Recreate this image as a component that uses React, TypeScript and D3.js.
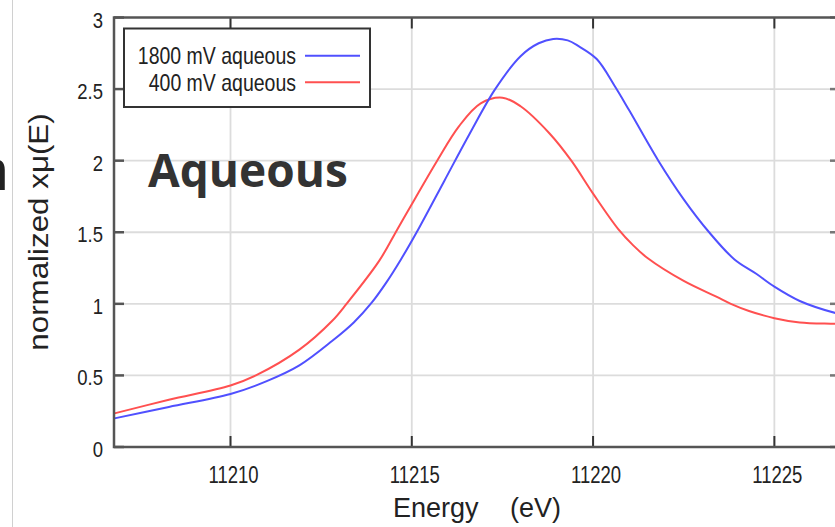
import React from "react";
import * as d3 from "d3";

const xTicks = [11210, 11215, 11220, 11225];
const yTicks = [0, 0.5, 1, 1.5, 2, 2.5, 3];
const yTickLabels = ["0", "0.5", "1", "1.5", "2", "2.5", "3"];

const energy1800 = [11206.8, 11208.3, 11210.0, 11211.0, 11211.9, 11212.8, 11213.4, 11213.9, 11214.3, 11214.7, 11215.2, 11215.9, 11216.6, 11217.3, 11218.0, 11218.5, 11218.9, 11219.3, 11219.6, 11220.1, 11220.6, 11221.0, 11221.8, 11222.5, 11223.2, 11223.9, 11224.5, 11225.0, 11225.7, 11226.7, 11227.0];
const mu1800 = [0.20, 0.28, 0.37, 0.46, 0.57, 0.74, 0.87, 1.01, 1.15, 1.31, 1.53, 1.86, 2.19, 2.50, 2.73, 2.82, 2.85, 2.84, 2.80, 2.71, 2.52, 2.35, 2.00, 1.73, 1.50, 1.31, 1.21, 1.12, 1.02, 0.935, 0.92];

const energy400 = [11206.8, 11208.3, 11210.0, 11210.7, 11211.9, 11212.8, 11213.2, 11214.1, 11214.6, 11215.1, 11215.7, 11216.3, 11216.9, 11217.5, 11218.0, 11218.8, 11219.4, 11220.0, 11220.7, 11221.1, 11221.5, 11222.5, 11223.4, 11223.8, 11224.3, 11225.0, 11225.7, 11226.7, 11227.0];
const mu400 = [0.235, 0.33, 0.43, 0.50, 0.68, 0.88, 1.00, 1.30, 1.52, 1.74, 2.00, 2.24, 2.40, 2.44, 2.38, 2.19, 2.00, 1.77, 1.52, 1.41, 1.32, 1.16, 1.05, 1.00, 0.95, 0.90, 0.87, 0.86, 0.855];

const seriesNames = ["1800 mV aqueous", "400 mV aqueous"];
const seriesColors = ["#5050ff", "#ff5050"];

export default function App() {
  const left = 114, right = 840, top = 17.5, bottom = 447;
  const x = d3.scaleLinear().domain([11206.787, 11226.81]).range([left, right]);
  const y = d3.scaleLinear().domain([0, 3]).range([bottom, top]);

  const line = d3
    .line<[number, number]>()
    .x((d) => x(d[0]))
    .y((d) => y(d[1]))
    .curve(d3.curveCatmullRom.alpha(0.5));

  const d1800 = line(energy1800.map((e, i) => [e, mu1800[i]] as [number, number])) || "";
  const d400 = line(energy400.map((e, i) => [e, mu400[i]] as [number, number])) || "";

  const font = "'Liberation Sans', Arial, sans-serif";
  const textColor = "#222";
  const axisColor = "#555";

  return (
    <svg
      width={835}
      height={527}
      style={{ position: "absolute", left: 0, top: 0, background: "#fff" }}
    >
      <defs>
        <clipPath id="plotClip">
          <rect x={left} y={top} width={right - left} height={bottom - top} />
        </clipPath>
      </defs>
      <rect x={0} y={0} width={835} height={527} fill="#fff" />
      {/* slide border line */}
      <line x1={12.5} x2={12.5} y1={0} y2={527} stroke="#d0d0d0" strokeWidth={1} />
      {/* cropped bold letter */}
      <text
        x={9}
        y={190}
        textAnchor="end"
        fontFamily="'Open Sans', sans-serif"
        fontWeight={700}
        fontSize={58}
        fill="#222"
      >
        n
      </text>

      {/* grid */}
      {xTicks.map((t) => (
        <line key={"gx" + t} x1={x(t)} x2={x(t)} y1={top} y2={bottom} stroke="#dcdcdc" strokeWidth={1.8} />
      ))}
      {yTicks.slice(1, -1).map((t) => (
        <line key={"gy" + t} x1={left} x2={right} y1={y(t)} y2={y(t)} stroke="#dcdcdc" strokeWidth={1.8} />
      ))}

      {/* curves */}
      <g clipPath="url(#plotClip)">
        <path d={d400} fill="none" stroke={seriesColors[1]} strokeWidth={2} />
        <path d={d1800} fill="none" stroke={seriesColors[0]} strokeWidth={2} />
      </g>

      {/* ticks */}
      {xTicks.map((t) => (
        <g key={"tx" + t}>
          <line x1={x(t)} x2={x(t)} y1={bottom} y2={bottom - 11} stroke="#333" strokeWidth={2} />
          <line x1={x(t)} x2={x(t)} y1={top} y2={top + 11} stroke="#333" strokeWidth={2} />
        </g>
      ))}
      {yTicks.map((t) => (
        <g key={"ty" + t}>
          <line x1={left} x2={left + 10} y1={y(t)} y2={y(t)} stroke="#555" strokeWidth={2.5} />
          <line x1={right} x2={right - 10} y1={y(t)} y2={y(t)} stroke="#777" strokeWidth={2.5} />
        </g>
      ))}

      {/* frame */}
      <rect x={left} y={top} width={right - left} height={bottom - top} fill="none" stroke={axisColor} strokeWidth={2.5} />

      {/* tick labels */}
      {xTicks.map((t) => (
        <text
          key={"lx" + t}
          transform={`translate(${x(t) + 3},483) scale(1,1.25)`}
          textAnchor="middle"
          fontFamily={font}
          fontSize={18.5}
          fill={textColor}
        >
          {t}
        </text>
      ))}
      {yTicks.map((t, i) => (
        <text
          key={"ly" + t}
          transform={`translate(103,${y(t) + 10}) scale(1,1.2)`}
          textAnchor="end"
          fontFamily={font}
          fontSize={18.5}
          fill={textColor}
        >
          {yTickLabels[i]}
        </text>
      ))}

      {/* axis titles */}
      <text x={393} y={517} fontFamily={font} fontSize={27} fill={textColor}>
        Energy
      </text>
      <text x={510} y={517} fontFamily={font} fontSize={27} fill={textColor}>
        (eV)
      </text>
      <text
        transform="translate(48,232) rotate(-90) scale(1.1,1)"
        textAnchor="middle"
        fontFamily={font}
        fontSize={28.5}
        fill={textColor}
      >
        normalized xμ(E)
      </text>

      {/* annotation */}
      <text
        x={148}
        y={187}
        fontFamily="'Open Sans', sans-serif"
        fontWeight={700}
        fontSize={46}
        fill="#333"
      >
        Aqueous
      </text>

      {/* legend */}
      <rect x={124} y={28.5} width={246} height={78.5} fill="#fff" stroke="#333" strokeWidth={2} />
      {seriesNames.map((name, i) => (
        <g key={name}>
          <text
            transform={`translate(296,${63.5 + i * 27.5}) scale(1,1.2)`}
            textAnchor="end"
            fontFamily={font}
            fontSize={19.5}
            fill={textColor}
          >
            {name}
          </text>
          <line
            x1={305}
            x2={360}
            y1={55.7 + i * 26.5}
            y2={55.7 + i * 26.5}
            stroke={seriesColors[i]}
            strokeWidth={2}
          />
        </g>
      ))}
    </svg>
  );
}
